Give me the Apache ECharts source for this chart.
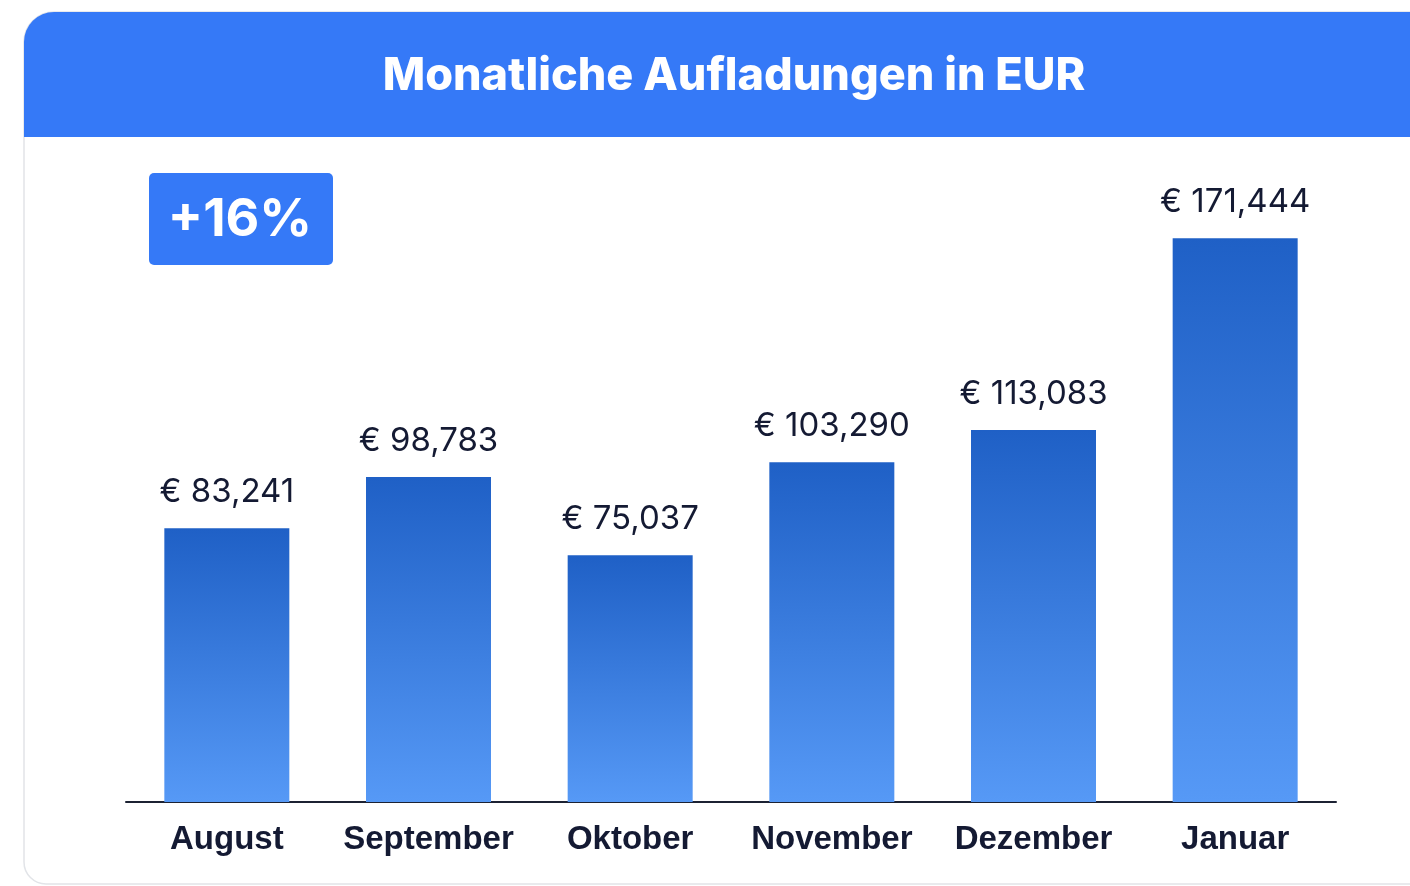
<!DOCTYPE html>
<html>
<head>
<meta charset="utf-8">
<script src="https://cdn.jsdelivr.net/npm/echarts@6/dist/echarts.min.js"></script>
<style>
html,body{margin:0;padding:0;background:#ffffff;}
#chart{width:1410px;height:886px;}
</style>
</head>
<body>
<div id="chart"></div>
<script>
const titleText = 'Monatliche Aufladungen in EUR';
const badgeText = '+16%';
const categories = ['August', 'September', 'Oktober', 'November', 'Dezember', 'Januar'];
const values = [83241, 98783, 75037, 103290, 113083, 171444];

const chart = echarts.init(document.getElementById('chart'), null, {renderer: 'canvas'});
const fmt = v => '€ ' + v.toLocaleString('en-US');
const font = 'Inter, "Noto Sans", sans-serif';
const catFont = '"Liberation Sans", Arial, sans-serif';

chart.setOption({
  animation: false,
  backgroundColor: '#ffffff',
  textStyle: {fontFamily: font},
  title: {
    text: titleText,
    left: 729,
    top: 49,
    textAlign: 'center',
    textStyle: {color: '#ffffff', fontSize: 45, fontWeight: 800, fontFamily: font}
  },
  graphic: [
    {type: 'rect', z: -10, silent: true,
     shape: {x: 24, y: 12, width: 1430, height: 872, r: [30, 30, 22, 22]},
     style: {fill: '#ffffff', stroke: '#e2e4e8', lineWidth: 1.5}},
    {type: 'rect', z: -9, silent: true,
     shape: {x: 24, y: 12, width: 1430, height: 125, r: [30, 30, 0, 0]},
     style: {fill: '#3579f7'}},
    {type: 'rect', z: 5, silent: true,
     shape: {x: 149, y: 173, width: 184, height: 92, r: 5},
     style: {fill: '#3579f7'}},
    {type: 'text', z: 6, silent: true, x: 240, y: 220,
     style: {text: badgeText, fill: '#ffffff', font: 'bold 52px ' + font,
             align: 'center', verticalAlign: 'middle'}}
  ],
  grid: {left: 126, right: 74, top: 210, bottom: 84, containLabel: false},
  xAxis: {
    type: 'category',
    data: categories,
    axisLine: {show: true, lineStyle: {color: '#1c2233', width: 2}},
    axisTick: {show: false},
    axisLabel: {color: '#141a33', fontSize: 33, fontWeight: 'bold', margin: 21,
                interval: 0, fontFamily: catFont}
  },
  yAxis: {
    type: 'value', min: 0, max: 180000,
    show: false, splitLine: {show: false}
  },
  series: [{
    type: 'bar',
    data: values,
    barWidth: 125,
    itemStyle: {
      color: new echarts.graphic.LinearGradient(0, 0, 0, 1, [
        {offset: 0, color: '#1f60c6'},
        {offset: 1, color: '#5699f6'}
      ])
    },
    label: {
      show: true, position: 'top', distance: 20,
      formatter: p => fmt(p.value),
      color: '#141a33', fontSize: 33, fontFamily: font
    }
  }]
});
</script>
</body>
</html>
